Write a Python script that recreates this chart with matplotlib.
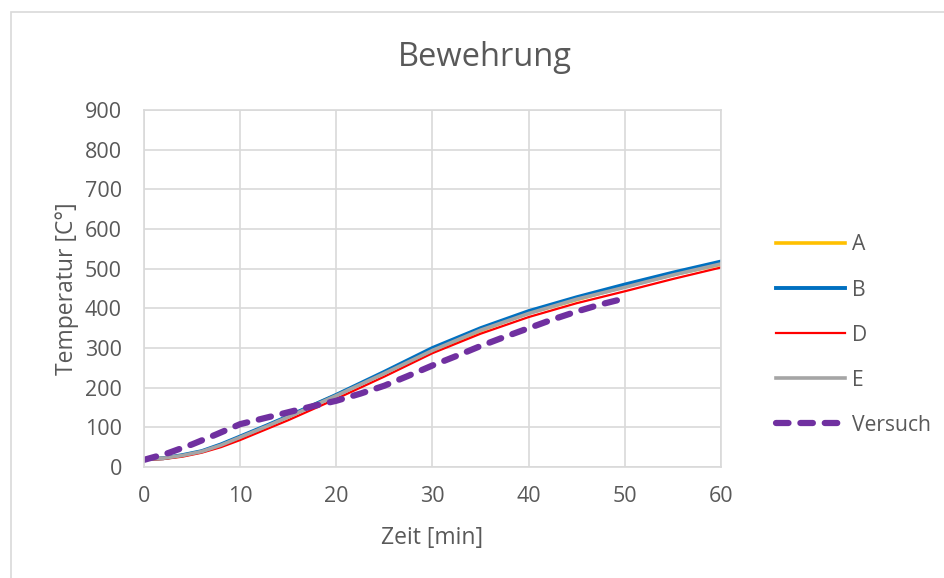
import matplotlib
matplotlib.use("Agg")
import matplotlib.pyplot as plt
from matplotlib.patches import Rectangle

plt.rcParams["font.family"] = ["Open Sans", "DejaVu Sans"]

# model curves (time in min, temperature in °C)
t_model = [0, 2, 4, 6, 8, 10, 12.5, 15, 17.5, 20, 25, 30, 35, 40, 45, 50, 55, 60]
temp_a = [20, 22, 29, 39, 55, 75, 100, 127, 155, 181, 237, 293, 344, 388, 422, 455, 485, 511]
temp_b = [20, 22, 30, 40, 57, 77, 102, 128, 155, 182, 240, 300, 350, 393, 428, 460, 490, 518]
temp_d = [18, 20, 26, 36, 50, 68, 93, 118, 145, 172, 228, 287, 336, 378, 413, 443, 474, 503]
temp_e = [20, 22, 29, 39, 55, 75, 100, 126, 153, 180, 236, 294, 345, 387, 423, 453, 484, 512]

# test measurement
t_test = [0, 2.5, 5, 7.5, 10, 12.5, 15, 17.5, 20, 22.5, 25, 27.5, 30, 32.5, 35,
          37.5, 40, 42.5, 45, 47.5, 50]
temp_test = [18, 35, 57, 82, 108, 123, 138, 153, 167, 185, 205, 230, 256, 280, 305,
             328, 350, 372, 392, 410, 425]

text_col = "#595959"
grid_col = "#d9d9d9"

fig = plt.figure(figsize=(9.45, 5.78), dpi=100)
fig.patches.append(Rectangle((11 / 945, -0.1), 1.2, 1.1 - 12 / 578,
                             transform=fig.transFigure, fill=False,
                             edgecolor=grid_col, linewidth=1.2))

ax = fig.add_axes([144 / 945, 1 - 467 / 578, (721 - 144) / 945, (467 - 110) / 578])

ax.plot(t_model, temp_a, color="#ffc000", lw=2.6, label="A")
ax.plot(t_model, temp_b, color="#0070c0", lw=2.8, label="B")
ax.plot(t_model, temp_d, color="#ff0000", lw=1.6, label="D")
ax.plot(t_model, temp_e, color="#a5a5a5", lw=2.6, label="E")
ax.plot(t_test, temp_test, color="#7030a0", lw=4.5, linestyle=(0, (2.0, 1.9)),
        dash_capstyle="round", label="Versuch")

ax.set_xlim(0, 60)
ax.set_ylim(0, 900)
ax.set_xticks(range(0, 61, 10))
ax.set_yticks(range(0, 901, 100))
ax.grid(True, color=grid_col, lw=1.2)
ax.set_axisbelow(True)
for s in ax.spines.values():
    s.set_color(grid_col)
    s.set_linewidth(1.2)
ax.tick_params(length=0, labelsize=15.5, colors=text_col)
ax.tick_params(axis="x", pad=14)
ax.tick_params(axis="y", pad=16)

fig.text(485 / 945, 1 - 57 / 578, "Bewehrung", fontsize=23.5, color=text_col,
         ha="center", va="center")
ax.set_xlabel("Zeit [min]", fontsize=16.5, color=text_col, labelpad=13)
ax.set_ylabel("Temperatur [C°]", fontsize=16.5, color=text_col, labelpad=4)

leg = ax.legend(loc="upper left", bbox_to_anchor=(1.08, 0.675), frameon=False,
                fontsize=15.2, handlelength=3.3, labelspacing=1.14, handletextpad=0.3,
                borderaxespad=0)
for txt in leg.get_texts():
    txt.set_color(text_col)

fig.savefig("out.png", dpi=100)
